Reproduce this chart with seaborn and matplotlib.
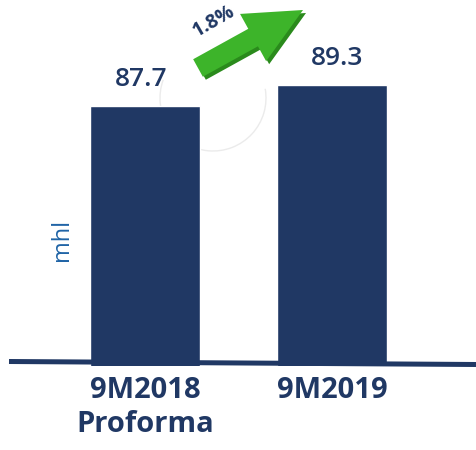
import matplotlib
matplotlib.use("Agg")
import matplotlib.pyplot as plt
from matplotlib.patches import FancyArrow, Arc
import seaborn as sns
import pandas as pd

# Volumes in million hectolitres
categories = ["9M2018\nProforma", "9M2019"]
values = [87.7, 89.3]
growth_label = "1.8%"
unit_label = "mhl"

NAVY = "#203864"
BLUE = "#2064A6"
GREEN = "#3DB42A"
GREEN_DARK = "#2A8A1C"

sns.set_theme(style="white")
plt.rcParams["font.family"] = ["Open Sans", "DejaVu Sans"]

df = pd.DataFrame({"period": categories, "volume": values})

fig = plt.figure(figsize=(4.76, 4.5), dpi=100)

# background layer (pixel units) for the faint circular guide behind the bars
bg = fig.add_axes([0, 0, 1, 1], zorder=0)
bg.set_xlim(0, 476)
bg.set_ylim(450, 0)
bg.axis("off")
bg.add_patch(Arc((213, 98), 106, 106, theta1=-10, theta2=200,
                 color="#ebebeb", lw=1.0))

ax = fig.add_axes([0.0, 0.1867, 1.0, 0.8133], zorder=1)
ax.patch.set_alpha(0)

sns.barplot(data=df, x="period", y="volume", color=NAVY, saturation=1,
            width=0.588, ax=ax, zorder=3)

ax.set_xlim(-0.775, 1.770)
ax.set_ylim(67.9, 95.8)
for s in ax.spines.values():
    s.set_visible(False)
ax.set_yticks([])
ax.set_xlabel("")
ax.set_ylabel("")
ax.tick_params(axis="x", length=0, pad=7)
for lbl in ax.get_xticklabels():
    lbl.set_fontsize(21)
    lbl.set_fontweight("bold")
    lbl.set_color(NAVY)
    lbl.set_linespacing(1.25)

# value labels above each bar
for i, v in enumerate(values):
    ax.annotate(f"{v:.1f}", xy=(i, v), xytext=(-3 if i == 0 else 4, 10),
                textcoords="offset points", ha="center", va="bottom",
                fontsize=19, fontweight="semibold", color=NAVY)

# foreground layer in pixel units for the baseline, arrow and annotations
ov = fig.add_axes([0, 0, 1, 1], zorder=5)
ov.set_xlim(0, 476)
ov.set_ylim(450, 0)
ov.axis("off")
ov.patch.set_alpha(0)

ov.plot([9, 476], [361.5, 364.5], color=NAVY, lw=3.6, solid_capstyle="butt")

ov.add_patch(FancyArrow(201, 71, 105, -58, width=20, head_width=54,
                        head_length=57, length_includes_head=True,
                        color=GREEN_DARK, lw=0))
ov.add_patch(FancyArrow(198, 68, 105, -58, width=20, head_width=54,
                        head_length=57, length_includes_head=True,
                        color=GREEN, lw=0))

ov.text(214, 21, growth_label, rotation=30, ha="center", va="center",
        fontsize=14, fontweight="bold", color=NAVY)

ov.text(62, 240, unit_label, rotation=90, ha="center", va="center",
        fontsize=17, color=BLUE)

fig.savefig("out.png", dpi=100)
